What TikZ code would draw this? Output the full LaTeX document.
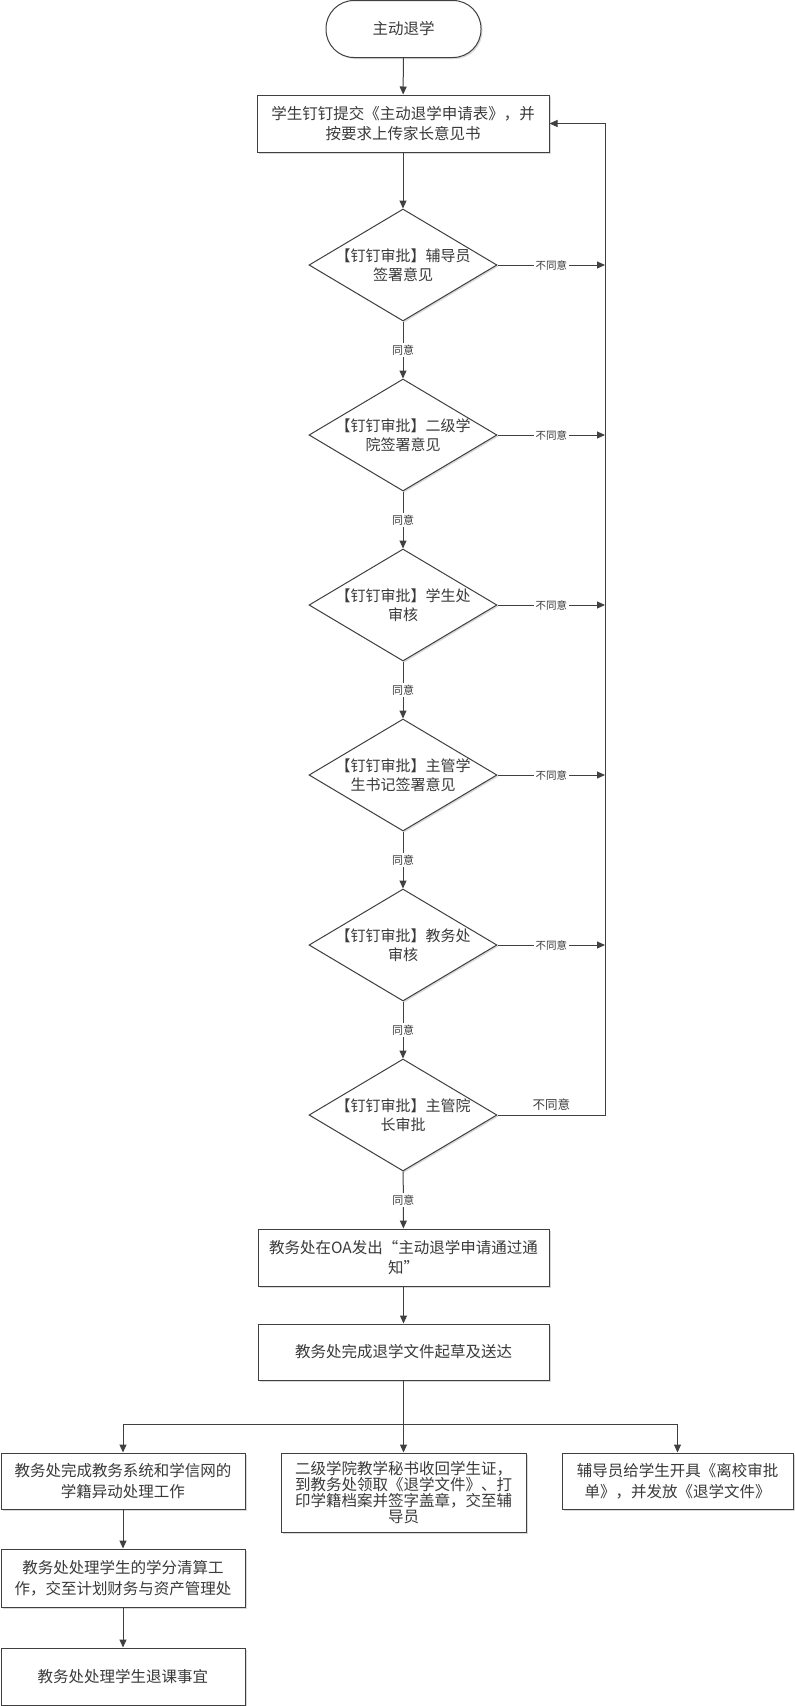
\documentclass[tikz,border=0pt]{standalone}
\usepackage{fontspec}
\newfontfamily\cjk{Noto Sans CJK SC}
\usetikzlibrary{shapes.geometric,arrows.meta,shadows}
\definecolor{ln}{HTML}{404040}
\definecolor{tx}{HTML}{3A3A3A}
\tikzset{
  base/.style={draw=ln,line width=1pt,fill=white,text=tx,font=\cjk\fontsize{15.5}{20.5}\selectfont,align=center,inner sep=0pt,
    drop shadow={shadow xshift=1.5pt,shadow yshift=-1.5pt,opacity=0.15,fill=black}},
  procbox/.style={base,rectangle},
  termbox/.style={base,rectangle,rounded corners=28pt,minimum width=155pt,minimum height=57pt},
  dia/.style={base,diamond,minimum width=188pt,minimum height=112pt},
  dtext/.style={text=tx,font=\cjk\fontsize{15}{18.5}\selectfont,align=center,inner sep=0pt},
  arr/.style={draw=ln,line width=1pt,-{Triangle[length=8pt,width=7pt]}},
  plain/.style={draw=ln,line width=1pt},
  yes/.style={fill=white,text=tx,font=\cjk\fontsize{11}{12}\selectfont,inner sep=1.5pt},
  no/.style={fill=white,text=tx,font=\cjk\fontsize{10.5}{12}\selectfont,inner sep=1.5pt},
  nolast/.style={text=tx,font=\cjk\fontsize{12.5}{14}\selectfont,inner sep=1pt},
}
\begin{document}
\begin{tikzpicture}[x=1pt,y=-1pt]
\useasboundingbox (0,0) rectangle (795,1706);
% start
\node[termbox] (s) at (403.5,29) {主动退学};
\node[procbox,minimum width=292pt,minimum height=57pt] (b1) at (403,123.5)
  {学生钉钉提交《主动退学申请表》，并\\按要求上传家长意见书};
% diamonds
\node[dia] (d1) at (403,265) {};
\node[dtext] (t1) at (d1) {【钉钉审批】辅导员\\签署意见};
\node[dia] (d2) at (403,435) {};
\node[dtext] (t2) at (d2) {【钉钉审批】二级学\\院签署意见};
\node[dia] (d3) at (403,605) {};
\node[dtext] (t3) at (d3) {【钉钉审批】学生处\\审核};
\node[dia] (d4) at (403,775) {};
\node[dtext] (t4) at (d4) {【钉钉审批】主管学\\生书记签署意见};
\node[dia] (d5) at (403,945) {};
\node[dtext] (t5) at (d5) {【钉钉审批】教务处\\审核};
\node[dia] (d6) at (403,1115) {};
\node[dtext] (t6) at (d6) {【钉钉审批】主管院\\长审批};
% lower boxes
\node[procbox,minimum width=291pt,minimum height=57pt] (oa) at (403.5,1257.5)
  {教务处在OA发出“主动退学申请通过通\\知”};
\node[procbox,minimum width=291pt,minimum height=56pt] (wj) at (403.5,1352)
  {教务处完成退学文件起草及送达};
\node[procbox,minimum width=244pt,minimum height=56pt] (l1) at (123,1481)
  {教务处完成教务系统和学信网的\\学籍异动处理工作};
\node[procbox,minimum width=245pt,minimum height=79pt,font=\cjk\fontsize{15.5}{16}\selectfont] (m) at (403.5,1492.5)
  {二级学院教学秘书收回学生证，\\到教务处领取《退学文件》、打\\印学籍档案并签字盖章，交至辅\\导员};
\node[procbox,minimum width=231pt,minimum height=56pt] (r) at (677.5,1481)
  {辅导员给学生开具《离校审批\\单》，并发放《退学文件》};
\node[procbox,minimum width=244pt,minimum height=58pt] (l2) at (123,1578)
  {教务处处理学生的学分清算工\\作，交至计划财务与资产管理处};
\node[procbox,minimum width=244pt,minimum height=57pt] (l3) at (123,1676.5)
  {教务处处理学生退课事宜};
% coordinates
\coordinate (fb) at (605,1115);
\coordinate (br) at (403.5,1424.5);
% connectors
\draw[arr] (s) -- (b1);
\draw[arr] (b1) -- (d1);
\draw[arr] (d1) -- node[yes] (y1) {同意} (d2);
\draw[arr] (d2) -- node[yes] (y2) {同意} (d3);
\draw[arr] (d3) -- node[yes] (y3) {同意} (d4);
\draw[arr] (d4) -- node[yes] (y4) {同意} (d5);
\draw[arr] (d5) -- node[yes] (y5) {同意} (d6);
\draw[arr] (d6) -- node[yes] (y6) {同意} (oa);
\draw[arr] (d1.east) -- node[no] (n1) {不同意} (d1.east -| fb);
\draw[arr] (d2.east) -- node[no] (n2) {不同意} (d2.east -| fb);
\draw[arr] (d3.east) -- node[no] (n3) {不同意} (d3.east -| fb);
\draw[arr] (d4.east) -- node[no] (n4) {不同意} (d4.east -| fb);
\draw[arr] (d5.east) -- node[no] (n5) {不同意} (d5.east -| fb);
\draw[arr] (d6.east) -- node[nolast,above=3pt] (n6) {不同意} (fb) |- (b1.east);
\draw[arr] (oa) -- (wj);
\draw[arr] (wj) -- (m);
\draw[arr] (br) -| (l1.north);
\draw[arr] (br) -| (r.north);
\draw[arr] (l1) -- (l2);
\draw[arr] (l2) -- (l3);
\end{tikzpicture}
\end{document}
